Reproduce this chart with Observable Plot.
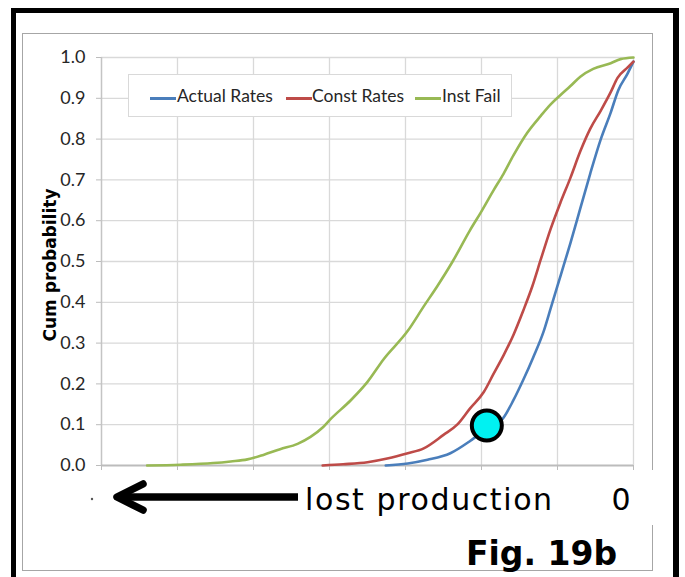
<!DOCTYPE html>
<html><head><meta charset="utf-8">
<script src="https://cdn.jsdelivr.net/npm/d3@7"></script>
<script src="https://cdn.jsdelivr.net/npm/@observablehq/plot@0.6"></script>
<style>
html,body{margin:0;padding:0;background:#fff;}
body{width:685px;height:577px;position:relative;overflow:hidden;}
.abs{position:absolute;}
#outer{left:11px;top:8px;width:668px;height:590px;box-sizing:border-box;border:5px solid #000;border-right-width:6px;z-index:10;}
#inner{left:22px;top:33px;width:631px;height:538px;box-sizing:border-box;border:1.5px solid #a6a6a6;z-index:1;}
#cover{left:280px;top:470px;width:385px;height:55px;background:#fff;z-index:2;}
#chart{left:0;top:0;z-index:3;}
#legend{left:128px;top:74px;width:384px;height:43px;box-sizing:border-box;border:1px solid #d9d9d9;background:#fff;z-index:4;
  font-family:Lato,"Liberation Sans Narrow",sans-serif;font-size:17.5px;color:#262626;}
#legend .sw{position:absolute;top:22px;height:2.5px;width:26px;}
#legend .lb{position:absolute;top:10px;line-height:22px;white-space:nowrap;}
#notes{left:0;top:0;z-index:5;}
</style>
</head><body>
<div id="outer" class="abs"></div>
<div id="inner" class="abs"></div>
<div id="cover" class="abs"></div>
<div id="chart" class="abs"></div>
<div id="legend" class="abs"></div>
<svg id="notes" class="abs" width="685" height="577" xmlns="http://www.w3.org/2000/svg">
  <text transform="translate(55.5,265) rotate(-90)" text-anchor="middle" font-family="DejaVu Sans" font-weight="bold" font-size="17" fill="#000">Cum probability</text>
  <circle cx="92" cy="499" r="1.2" fill="#555"/>
  <path d="M298,497 H120" stroke="#000" stroke-width="7.5" fill="none" stroke-linecap="butt"/>
  <path d="M143,484 L117,497 L143,510" stroke="#000" stroke-width="7.5" fill="none" stroke-linecap="round" stroke-linejoin="round"/>
  <text x="305" y="510" font-family="DejaVu Sans" font-size="30" letter-spacing="1.6" fill="#000">lost production</text>
  <text x="621" y="510" text-anchor="middle" font-family="DejaVu Sans" font-size="30" fill="#000">0</text>
  <text x="466" y="565" font-family="DejaVu Sans" font-weight="bold" font-size="33" fill="#000">Fig. 19b</text>
</svg>
<script>
// ---- data (lost production in grid units, 0 at right; cumulative probability) ----
const seriesNames = ["Actual Rates", "Const Rates", "Inst Fail"];
const seriesColors = ["#4a7ebb", "#be4b48", "#98b954"];

const actualLoss = [3.26, 2.97, 2.71, 2.41, 2.15, 1.92, 1.72, 1.58, 1.45, 1.32, 1.18, 1.09, 0.96, 0.83, 0.70, 0.57, 0.43, 0.30, 0.20, 0.08, 0];
const actualProb = [0, 0.005, 0.014, 0.03, 0.06, 0.092, 0.115, 0.16, 0.21, 0.265, 0.33, 0.385, 0.465, 0.545, 0.63, 0.715, 0.80, 0.865, 0.92, 0.96, 0.99];

const constLoss = [4.09, 3.82, 3.50, 3.24, 2.97, 2.76, 2.50, 2.32, 2.15, 1.97, 1.84, 1.71, 1.58, 1.45, 1.33, 1.22, 1.09, 0.96, 0.83, 0.70, 0.57, 0.43, 0.30, 0.21, 0.08, 0];
const constProb = [0, 0.003, 0.008, 0.017, 0.03, 0.042, 0.075, 0.10, 0.14, 0.18, 0.225, 0.27, 0.32, 0.38, 0.44, 0.505, 0.58, 0.645, 0.705, 0.77, 0.825, 0.87, 0.915, 0.95, 0.975, 0.99];

const instLoss = [6.40, 5.96, 5.53, 5.30, 5.08, 4.87, 4.65, 4.42, 4.25, 4.09, 3.99, 3.72, 3.50, 3.29, 2.97, 2.76, 2.58, 2.38, 2.15, 2.01, 1.84, 1.71, 1.58, 1.40, 1.22, 1.09, 0.96, 0.83, 0.70, 0.53, 0.30, 0.17, 0];
const instProb = [0, 0.002, 0.006, 0.01, 0.015, 0.026, 0.04, 0.053, 0.07, 0.093, 0.113, 0.16, 0.205, 0.26, 0.33, 0.39, 0.44, 0.50, 0.577, 0.62, 0.675, 0.715, 0.76, 0.815, 0.857, 0.885, 0.908, 0.93, 0.953, 0.972, 0.986, 0.996, 1.0];

const markerLoss = [1.93];
const markerProb = [0.098];

const xTicks = [7, 6, 5, 4, 3, 2, 1, 0];
const yTicks = [0, 0.1, 0.2, 0.3, 0.4, 0.5, 0.6, 0.7, 0.8, 0.9, 1.0];

// ---- build tables ----
const lossArrays = [actualLoss, constLoss, instLoss];
const probArrays = [actualProb, constProb, instProb];
const rows = seriesNames.flatMap((name, s) =>
  lossArrays[s].map((x, i) => ({series: name, x, p: probArrays[s][i]})));
const marker = markerLoss.map((x, i) => ({x, p: markerProb[i]}));

const tickFont = 'Lato,"Liberation Sans Narrow",sans-serif';

const chart = Plot.plot({
  width: 685, height: 577,
  marginTop: 57, marginRight: 52, marginBottom: 112, marginLeft: 101,
  style: {background: "transparent", fontFamily: tickFont, fontSize: "18px", color: "#262626", overflow: "visible"},
  x: {domain: [7, 0], axis: null},
  y: {domain: [0, 1], axis: null},
  color: {domain: seriesNames, range: seriesColors},
  marks: [
    Plot.gridY(yTicks.slice(1), {stroke: "#d9d9d9", strokeOpacity: 1, strokeWidth: 1.3}),
    Plot.gridX(xTicks.slice(1), {stroke: "#d9d9d9", strokeOpacity: 1, strokeWidth: 1.3}),
    Plot.ruleX([7], {stroke: "#c4c4c4", strokeWidth: 1.5}),
    Plot.ruleY([0], {stroke: "#bcbcbc", strokeWidth: 2}),
    Plot.axisY(yTicks, {tickSize: 5, tickPadding: 11, tickFormat: d3.format(".1f"), stroke: "#bcbcbc", fill: "#262626", fontSize: 18, label: null}),
    Plot.axisX(xTicks, {tickSize: 5, tickFormat: () => "", stroke: "#bcbcbc", label: null}),
    Plot.line(rows, {x: "x", y: "p", z: "series", stroke: "series", strokeWidth: 2.6, strokeLinejoin: "round", curve: "monotone-x"}),
    Plot.dot(marker, {x: "x", y: "p", r: 15, fill: "#00f2f2", stroke: "#000", strokeWidth: 4})
  ]
});
document.getElementById("chart").appendChild(chart);

// ---- legend ----
const legend = document.getElementById("legend");
const swLeft = [21, 157, 286];
const lbLeft = [48, 183, 313];
seriesNames.forEach((name, i) => {
  const sw = document.createElement("div");
  sw.className = "sw";
  sw.style.left = swLeft[i] + "px";
  sw.style.background = seriesColors[i];
  legend.appendChild(sw);
  const lb = document.createElement("div");
  lb.className = "lb";
  lb.style.left = lbLeft[i] + "px";
  lb.textContent = name;
  legend.appendChild(lb);
});
</script>
</body></html>
